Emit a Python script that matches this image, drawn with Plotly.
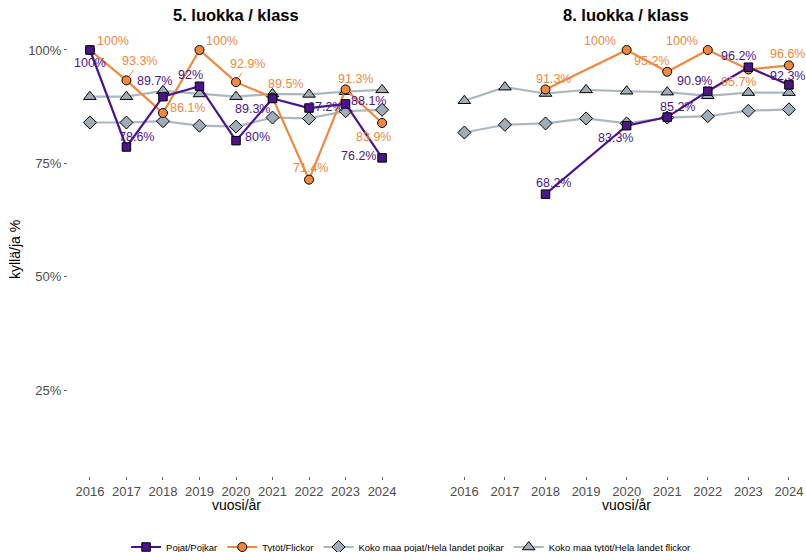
import plotly.graph_objects as go

years = [2016, 2017, 2018, 2019, 2020, 2021, 2022, 2023, 2024]

g5_pojat = [1.0, 0.786, 0.897, 0.92, 0.80, 0.893, 0.872, 0.881, 0.762]
g5_tytot = [1.0, 0.933, 0.861, 1.0, 0.929, 0.895, 0.714, 0.913, 0.839]
g5_nat_pojat = [0.840, 0.840, 0.843, 0.833, 0.831, 0.851, 0.849, 0.865, 0.868]
g5_nat_tytot = [0.897, 0.897, 0.910, 0.903, 0.897, 0.903, 0.902, 0.908, 0.912]

g8_pojat = [None, None, 0.682, None, 0.833, 0.852, 0.909, 0.962, 0.923]
g8_tytot = [None, None, 0.913, None, 1.0, 0.952, 1.0, 0.957, 0.966]
g8_nat_pojat = [0.818, 0.835, 0.838, 0.849, 0.838, 0.851, 0.854, 0.866, 0.869]
g8_nat_tytot = [0.888, 0.918, 0.904, 0.912, 0.909, 0.907, 0.899, 0.906, 0.906]

series_names = ["Pojat/Pojkar", "Tytöt/Flickor",
                "Koko maa pojat/Hela landet pojkar", "Koko maa tytöt/Hela landet flickor"]
panel_titles = ["5. luokka / klass", "8. luokka / klass"]
y_ticks = [0.25, 0.5, 0.75, 1.0]

# label offsets in pixels (dx right, dy down) — styling only
off5_pojat = [(0, 13), (10, -10), (-8, -16), (-9, -11), (21, -4), (-20, 10), (16, -1), (23, -3), (-24, -2)]
off5_tytot = [(23, -9), (13, -19), (25, -5), (23, -9), (11, -18), (13, -14), (1, -12), (10, -10), (-9, 14)]
off8_pojat = [None, None, (8, -11), None, (-11, 12), (10, -10), (-13, -10), (-10, -11), (-1, -9)]
off8_tytot = [None, None, (8, -10), None, (-27, -9), (-16, -11), (-26, -9), (-10, 13), (-1, -11)]
leader5_tytot = [False, True, False, False, True, False, False, False, False]

PURPLE = "#4b1589"
ORANGE = "#f0883e"
GREYLINE = "#aab8c2"
GREYFILL = "#9eadb8"
FONT = "Liberation Sans, Arial, sans-serif"

fig = go.Figure()


def add_series(xa, ya, vals, name, color, lcolor, symbol, size, show, rank):
    fig.add_trace(go.Scatter(
        x=years, y=vals, name=name, mode="lines+markers", connectgaps=True,
        xaxis=xa, yaxis=ya, showlegend=show, legendgroup=name, legendrank=rank,
        line=dict(color=lcolor, width=2.2),
        marker=dict(symbol=symbol, size=size, color=color,
                    line=dict(color="black", width=1)),
        hoverinfo="x+y",
    ))


panels = [
    ("x", "y", g5_pojat, g5_tytot, g5_nat_pojat, g5_nat_tytot, True),
    ("x2", "y2", g8_pojat, g8_tytot, g8_nat_pojat, g8_nat_tytot, False),
]
for xa, ya, pj, ty, npj, nty, show in panels:
    add_series(xa, ya, npj, series_names[2], GREYFILL, GREYLINE, "diamond", 10, show, 3)
    add_series(xa, ya, nty, series_names[3], GREYFILL, GREYLINE, "triangle-up", 11, show, 4)
    add_series(xa, ya, ty, series_names[1], ORANGE, ORANGE, "circle", 9, show, 2)
    add_series(xa, ya, pj, series_names[0], PURPLE, PURPLE, "square", 8.5, show, 1)


def fmt(v):
    return f"{round(v * 100, 1):g}%"


annotations = []


def add_labels(xref, yref, vals, offs, color, leaders=None):
    for i, (yr, v) in enumerate(zip(years, vals)):
        if v is None or offs[i] is None:
            continue
        dx, dy = offs[i]
        if leaders and leaders[i]:
            annotations.append(dict(
                x=yr, y=v, xref=xref, yref=yref, text=fmt(v), showarrow=True,
                ax=dx, ay=dy, arrowhead=0, arrowwidth=1, arrowcolor=color, standoff=5,
                font=dict(color=color, size=12.5, family=FONT)))
        else:
            annotations.append(dict(
                x=yr, y=v, xref=xref, yref=yref, text=fmt(v), showarrow=False,
                xshift=dx, yshift=-dy, xanchor="center", yanchor="middle",
                font=dict(color=color, size=12.5, family=FONT)))


add_labels("x", "y", g5_pojat, off5_pojat, PURPLE)
add_labels("x", "y", g5_tytot, off5_tytot, ORANGE, leader5_tytot)
add_labels("x2", "y2", g8_pojat, off8_pojat, PURPLE)
add_labels("x2", "y2", g8_tytot, off8_tytot, ORANGE)

W, H = 806, 552
# panel titles
for txt, xc in zip(panel_titles, [236, 626]):
    annotations.append(dict(x=xc / W, y=1 - 15 / H, xref="paper", yref="paper",
                            xanchor="center", yanchor="middle",
                            text=f"<b>{txt}</b>", showarrow=False,
                            font=dict(size=16.5, color="black", family=FONT)))
    annotations.append(dict(x=xc / W, y=1 - 505 / H, xref="paper", yref="paper",
                            xanchor="center", yanchor="middle",
                            text="vuosi/år", showarrow=False,
                            font=dict(size=14, color="black", family=FONT)))
annotations.append(dict(x=15 / W, y=1 - 250 / H, xref="paper", yref="paper",
                        xanchor="center", yanchor="middle",
                        text="kyllä/ja %", showarrow=False, textangle=-90,
                        font=dict(size=14, color="black", family=FONT)))

yr_range = [0.0603, 1.0485]
ydom = [1 - 476 / H, 1 - 28 / H]
common_x = dict(tickmode="array", tickvals=years, ticktext=[str(y) for y in years],
                showgrid=False, zeroline=False, showline=False, automargin=False,
                ticks="outside", ticklen=3, tickcolor="#666666",
                tickfont=dict(size=13, color="#4d4d4d", family=FONT))
common_y = dict(range=yr_range, domain=ydom, tickmode="array", tickvals=y_ticks,
                tickformat=".0%", showgrid=False, zeroline=False, showline=False,
                automargin=False, ticklen=3, tickcolor="#666666",
                tickfont=dict(size=13, color="#4d4d4d", family=FONT))

fig.update_layout(
    width=W, height=H,
    margin=dict(l=0, r=0, t=0, b=0, autoexpand=False),
    paper_bgcolor="white", plot_bgcolor="white",
    font=dict(family=FONT),
    xaxis=dict(domain=[68 / W, 404 / W], range=[2015.4, 2024.6], anchor="y", **common_x),
    xaxis2=dict(domain=[440 / W, 1.0], range=[2015.4, 2024.42], anchor="y2", **common_x),
    yaxis=dict(anchor="x", ticks="outside", **common_y),
    yaxis2=dict(anchor="x2", showticklabels=False, ticks="", **common_y),
    legend=dict(orientation="h", x=0.51, xanchor="center", y=1 - 547 / H, yanchor="middle",
                font=dict(size=9.5, color="black", family=FONT), traceorder="normal",
                itemwidth=30, tracegroupgap=0),
    annotations=annotations,
    showlegend=True,
)

fig.write_html("out.html", config={"displayModeBar": False},
               post_script="document.body.style.margin='0px';")
